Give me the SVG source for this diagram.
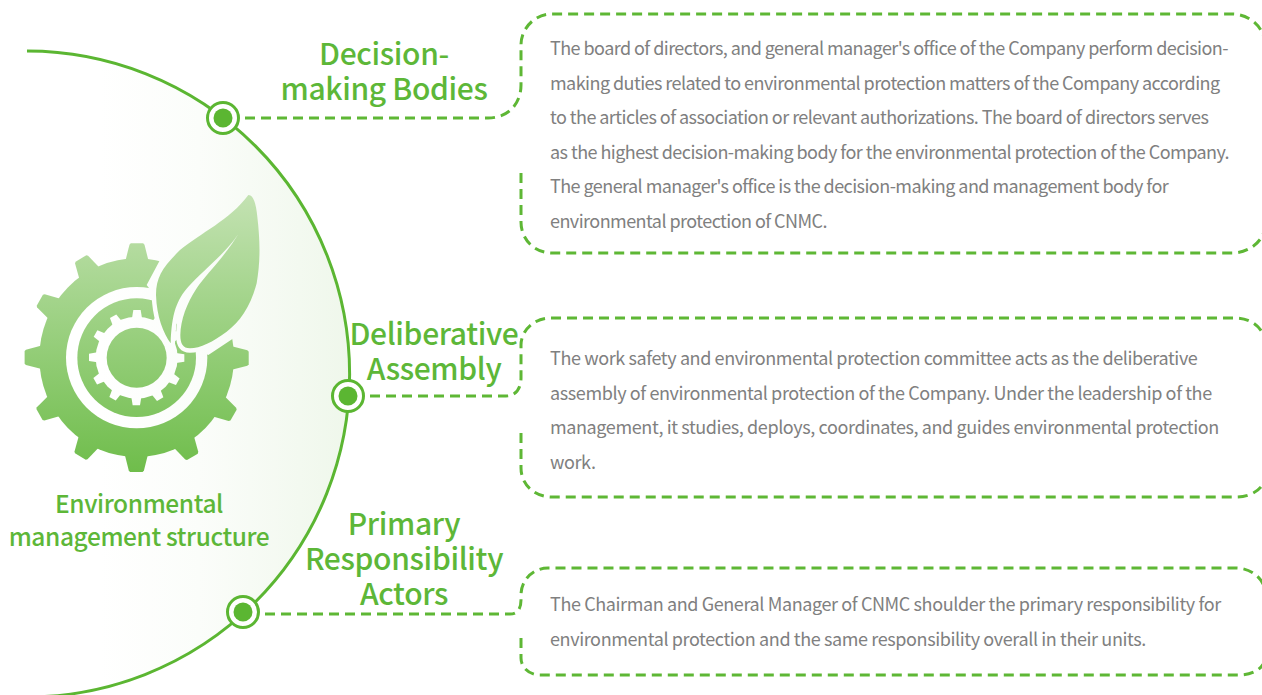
<svg xmlns="http://www.w3.org/2000/svg" xmlns:xlink="http://www.w3.org/1999/xlink" width="1262" height="695" viewBox="0 0 1262 695">
<style>
text{font-family:"Noto Sans CJK SC","Noto Sans",sans-serif}
.t{font-size:30px;fill:#5db738;text-anchor:middle;font-weight:500;letter-spacing:-.35px}
.s{font-size:24.5px;fill:#5db738;text-anchor:middle;font-weight:500;letter-spacing:-.4px}
.b{font-size:18px;fill:#808080;font-weight:400;letter-spacing:-.555px}
#deliberative .b,#primary .b{letter-spacing:-.39px}
.d{fill:none;stroke:#5eb735;stroke-width:3;stroke-dasharray:10 6}
.o{fill:#fff;stroke:#5bb632;stroke-width:3}
.i{fill:#5bb632}
</style>
<defs>
<linearGradient id="bg" gradientUnits="userSpaceOnUse" x1="100" y1="0" x2="349" y2="0"><stop offset="0" stop-color="#fff"/><stop offset=".4" stop-color="#fbfdfa"/><stop offset="1" stop-color="#eff7eb"/></linearGradient>
<linearGradient id="ig" gradientUnits="userSpaceOnUse" x1="0" y1="75" x2="0" y2="905"><stop offset="0" stop-color="#c3e2b2"/><stop offset="1" stop-color="#6fbd4b"/></linearGradient>
<polygon id="tb" points="375,275 388,224 392,220 430,220 434,224 447,275" fill="#fff"/>
<polygon id="ts" points="396,445 400,420 422,420 426,445" fill="#000"/>
<path id="leaf" d="M745,75C760,75 768,100 772,140C780,210 782,270 770,340C752,410 720,455 680,485C640,515 600,535 570,535C548,535 541,520 541,495C542,450 560,400 590,355C620,310 680,255 722,180C690,240 610,300 565,350C530,390 515,430 512,520C490,490 470,440 468,375C468,320 490,290 540,240C600,190 690,150 745,75Z"/>
<mask id="gm" maskUnits="userSpaceOnUse" x="0" y="0" width="900" height="960">
<rect width="900" height="960" fill="#000"/>
<g transform="translate(410 0) scale(.98 1) translate(-410 0)">
<circle cx="410" cy="563" r="298" fill="#fff"/>
<use xlink:href="#tb"/>
<use xlink:href="#tb" transform="rotate(30 410 563)"/>
<use xlink:href="#tb" transform="rotate(60 410 563)"/>
<use xlink:href="#tb" transform="rotate(90 410 563)"/>
<use xlink:href="#tb" transform="rotate(120 410 563)"/>
<use xlink:href="#tb" transform="rotate(150 410 563)"/>
<use xlink:href="#tb" transform="rotate(180 410 563)"/>
<use xlink:href="#tb" transform="rotate(210 410 563)"/>
<use xlink:href="#tb" transform="rotate(240 410 563)"/>
<use xlink:href="#tb" transform="rotate(270 410 563)"/>
<use xlink:href="#tb" transform="rotate(300 410 563)"/>
<use xlink:href="#tb" transform="rotate(330 410 563)"/>
</g>
<circle cx="410" cy="563" r="212" fill="#000"/>
<circle cx="410" cy="563" r="178" fill="#fff"/>
<circle cx="410" cy="563" r="123" fill="#000"/>
<use xlink:href="#ts"/>
<use xlink:href="#ts" transform="rotate(30 410 563)"/>
<use xlink:href="#ts" transform="rotate(60 410 563)"/>
<use xlink:href="#ts" transform="rotate(90 410 563)"/>
<use xlink:href="#ts" transform="rotate(120 410 563)"/>
<use xlink:href="#ts" transform="rotate(150 410 563)"/>
<use xlink:href="#ts" transform="rotate(180 410 563)"/>
<use xlink:href="#ts" transform="rotate(210 410 563)"/>
<use xlink:href="#ts" transform="rotate(240 410 563)"/>
<use xlink:href="#ts" transform="rotate(270 410 563)"/>
<use xlink:href="#ts" transform="rotate(300 410 563)"/>
<use xlink:href="#ts" transform="rotate(330 410 563)"/>
<circle cx="410" cy="563" r="90" fill="#fff"/>
<polygon points="440,345 480,270 600,100 900,100 900,485 730,485 625,555 590,540" fill="#000"/>
<use xlink:href="#leaf" fill="#000" stroke="#000" stroke-width="26"/>
<use xlink:href="#leaf" fill="#fff"/>
</mask>
</defs>
<g id="background"><circle cx="26" cy="374" r="323" fill="url(#bg)" stroke="none"/><path d="M27,51A323,323 0 1 1 26,697" fill="none" stroke="#5bb632" stroke-width="3"/></g>
<g id="icon" transform="translate(0 170) scale(.33333)"><rect width="900" height="960" fill="url(#ig)" mask="url(#gm)"/></g>
<g id="connectors">
<path class="d" d="M245,118H488C508,118 521,104 521,85V45C521,28 535,14 552,14H1232C1250,14 1265,28 1265,45"/>
<path class="d" d="M521,173V222C521,240 535,253 552,253H1232C1250,253 1265,240 1265,225"/>
<path class="d" d="M370,396H506C516,396 521,388 521,378V345C521,330 535,318 550,318H1236C1252,318 1265,330 1265,342"/>
<path class="d" d="M521,433V468C521,485 535,497 552,497H1236C1252,497 1265,488 1265,476"/>
<path class="d" d="M265,614H510C518,614 521,608 521,600V595C521,580 533,568 548,568H1236C1252,568 1265,580 1265,592"/>
<path class="d" d="M521,638V658C521,668 530,675 540,675H1240C1252,675 1265,668 1265,658"/>
</g>
<g id="central"><text class="s" x="139" y="513">Environmental</text><text class="s" x="139" y="546">management structure</text></g>
<g id="decision">
<circle class="o" cx="223" cy="118" r="15.5"/><circle class="i" cx="223" cy="118" r="9.5"/>
<text class="t" x="384" y="65">Decision-</text><text class="t" x="384" y="100">making Bodies</text>
<text class="b" x="550" y="54.5">The board of directors, and general manager's office of the Company perform decision-</text>
<text class="b" x="550" y="89.5">making duties related to environmental protection matters of the Company according</text>
<text class="b" x="550" y="123.5">to the articles of association or relevant authorizations. The board of directors serves</text>
<text class="b" x="550" y="158.5">as the highest decision-making body for the environmental protection of the Company.</text>
<text class="b" x="550" y="192.5">The general manager's office is the decision-making and management body for</text>
<text class="b" x="550" y="227.5">environmental protection of CNMC.</text>
</g>
<g id="deliberative">
<circle class="o" cx="348" cy="396" r="15.5"/><circle class="i" cx="348" cy="396" r="9.5"/>
<text class="t" x="434" y="345">Deliberative</text><text class="t" x="434" y="380">Assembly</text>
<text class="b" x="550" y="364.5">The work safety and environmental protection committee acts as the deliberative</text>
<text class="b" x="550" y="399.5">assembly of environmental protection of the Company. Under the leadership of the</text>
<text class="b" x="550" y="433.5">management, it studies, deploys, coordinates, and guides environmental protection</text>
<text class="b" x="550" y="468.5">work.</text>
</g>
<g id="primary">
<circle class="o" cx="243" cy="612" r="15.5"/><circle class="i" cx="243" cy="612" r="9.5"/>
<text class="t" x="404" y="535">Primary</text><text class="t" x="404" y="570">Responsibility</text><text class="t" x="404" y="605">Actors</text>
<text class="b" x="550" y="610.5">The Chairman and General Manager of CNMC shoulder the primary responsibility for</text>
<text class="b" x="550" y="645.5">environmental protection and the same responsibility overall in their units.</text>
</g>
</svg>
